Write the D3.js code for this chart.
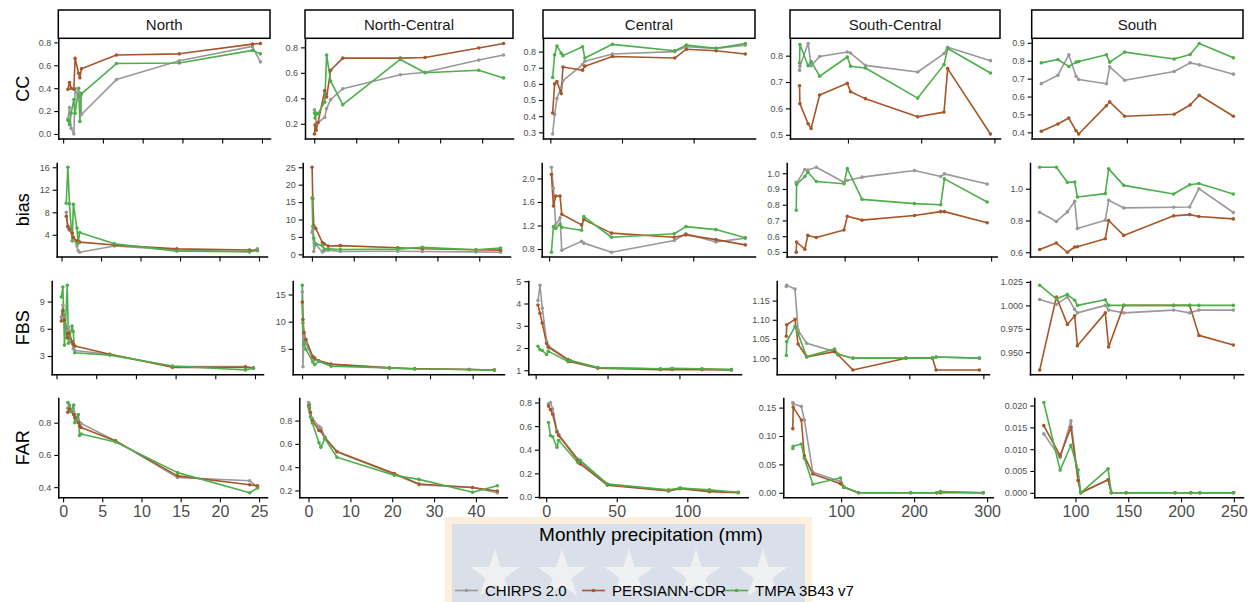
<!DOCTYPE html>
<html>
<head>
<meta charset="utf-8">
<script src="https://cdn.jsdelivr.net/npm/d3@7"></script>
<style>
  body { margin: 0; background: #ffffff; }
  svg { display: block; }
  text { font-family: "Liberation Sans", Arial, Helvetica, sans-serif; }
</style>
</head>
<body>
<svg id="chart" width="1253" height="602"></svg>
<script>
// ---- categories ----
const regions = ["North", "North-Central", "Central", "South-Central", "South"];
const metrics = ["CC", "bias", "FBS", "FAR"];
const products = ["CHIRPS 2.0", "PERSIANN-CDR", "TMPA 3B43 v7"];

// ---- monthly precipitation (mm), one value per month, per region ----
const precipNorth        = [0.6, 0.8, 1.0, 1.35, 1.5, 1.95, 2.1, 2.3, 6.7, 14.6, 23.8, 24.8];
const precipNorthCentral = [0.05, 0.2, 0.45, 0.9, 2.5, 2.95, 3.9, 6.8, 20.5, 26.4, 39.2, 45.1];
const precipCentral      = [1.6, 3.0, 4.6, 7.6, 8.8, 22.5, 24.1, 43.3, 86.8, 94.9, 115.7, 136.1];
const precipSouthCentral = [33.9, 34.4, 45.6, 49.7, 61.3, 99.1, 103.6, 123.8, 195.3, 231.2, 236.2, 294.6];
const precipSouth        = [70.0, 85.5, 95.7, 102.5, 105.0, 130.9, 134.0, 148.0, 194.3, 209.2, 217.8, 249.7];

// ---- scores: rows are CHIRPS 2.0, PERSIANN-CDR, TMPA 3B43 v7 ----
const northCC = [
  [0.13, 0.23, 0.05, 0.00, 0.40, 0.30, 0.36, 0.17, 0.475, 0.64, 0.765, 0.63],
  [0.39, 0.45, 0.40, 0.39, 0.66, 0.53, 0.49, 0.57, 0.69, 0.70, 0.785, 0.79],
  [0.12, 0.08, 0.18, 0.30, 0.18, 0.40, 0.11, 0.35, 0.615, 0.62, 0.73, 0.70]
];
const northBias = [
  [8.0, 5.4, 4.8, 4.3, 3.5, 2.0, 1.2, 0.9, 2.0, 1.3, 1.0, 1.5],
  [7.3, 5.5, 5.0, 4.3, 3.5, 2.9, 2.8, 2.7, 2.2, 1.5, 1.3, 1.2],
  [9.6, 16.0, 9.5, 2.9, 9.4, 5.2, 2.5, 4.4, 2.4, 1.1, 1.0, 1.2]
];
const northFBS = [
  [7.3, 8.6, 7.2, 5.8, 6.2, 4.5, 3.8, 3.6, 3.2, 1.85, 1.85, 1.65],
  [6.85, 8.0, 7.0, 5.0, 5.5, 4.6, 4.3, 4.1, 3.2, 1.75, 1.75, 1.7],
  [9.5, 10.6, 4.2, 10.8, 4.4, 6.3, 5.7, 3.35, 3.1, 1.9, 1.45, 1.65]
];
const northFAR = [
  [0.89, 0.90, 0.88, 0.87, 0.85, 0.82, 0.80, 0.795, 0.687, 0.46, 0.44, 0.40],
  [0.865, 0.885, 0.87, 0.85, 0.83, 0.80, 0.78, 0.77, 0.687, 0.47, 0.415, 0.408],
  [0.925, 0.91, 0.87, 0.91, 0.80, 0.85, 0.72, 0.73, 0.68, 0.49, 0.365, 0.395]
];

const northCentralCC = [
  [0.31, 0.29, 0.20, 0.21, 0.25, 0.32, 0.39, 0.475, 0.585, 0.605, 0.70, 0.74],
  [0.12, 0.19, 0.15, 0.21, 0.46, 0.41, 0.62, 0.715, 0.715, 0.72, 0.795, 0.83],
  [0.285, 0.245, 0.275, 0.28, 0.37, 0.74, 0.535, 0.35, 0.705, 0.60, 0.62, 0.56]
];
const northCentralBias = [
  [6.3, 7.0, 0.8, 2.9, 0.7, 1.0, 1.2, 0.8, 0.9, 0.8, 0.7, 0.6],
  [25.0, 16.0, 8.2, 7.5, 3.4, 3.0, 2.4, 2.5, 1.9, 1.6, 1.3, 1.2],
  [16.2, 8.0, 4.6, 3.0, 2.5, 1.5, 1.6, 1.4, 1.5, 2.0, 1.3, 1.8]
];
const northCentralFBS = [
  [15.5, 1.7, 7.2, 6.0, 3.3, 3.0, 2.8, 2.1, 1.5, 1.35, 1.2, 1.1],
  [13.6, 10.4, 8.0, 6.7, 3.6, 3.3, 2.8, 2.2, 1.5, 1.35, 1.2, 1.1],
  [16.7, 9.8, 5.8, 4.9, 2.6, 2.1, 2.7, 1.8, 1.5, 1.3, 1.2, 1.1]
];
const northCentralFAR = [
  [0.955, 0.94, 0.86, 0.82, 0.75, 0.735, 0.66, 0.53, 0.34, 0.25, 0.225, 0.18],
  [0.93, 0.91, 0.87, 0.80, 0.715, 0.71, 0.65, 0.535, 0.345, 0.255, 0.225, 0.195],
  [0.92, 0.89, 0.83, 0.78, 0.61, 0.57, 0.645, 0.485, 0.33, 0.295, 0.185, 0.24]
];

const centralCC = [
  [0.29, 0.41, 0.51, 0.58, 0.62, 0.72, 0.74, 0.785, 0.80, 0.83, 0.82, 0.84],
  [0.42, 0.60, 0.615, 0.54, 0.705, 0.685, 0.71, 0.77, 0.76, 0.815, 0.805, 0.785],
  [0.64, 0.78, 0.835, 0.79, 0.775, 0.83, 0.76, 0.845, 0.805, 0.84, 0.82, 0.85]
];
const centralBias = [
  [2.19, 1.83, 1.21, 1.33, 0.78, 0.93, 0.90, 0.745, 0.945, 1.06, 0.92, 0.985],
  [2.07, 1.53, 1.70, 1.70, 1.39, 1.21, 1.30, 1.07, 1.00, 1.04, 0.96, 0.87],
  [0.745, 1.18, 1.15, 1.22, 1.17, 1.12, 1.35, 1.00, 1.06, 1.18, 1.13, 0.99]
];
const centralFBS = [
  [4.13, 4.82, 3.79, 2.3, 2.1, 1.49, 1.44, 1.12, 1.06, 1.06, 1.05, 1.03],
  [3.93, 3.56, 3.12, 2.2, 2.04, 1.46, 1.39, 1.09, 1.03, 1.04, 1.03, 1.01],
  [2.08, 1.93, 1.89, 1.71, 1.86, 1.39, 1.44, 1.12, 1.07, 1.09, 1.07, 1.03]
];
const centralFAR = [
  [0.79, 0.80, 0.745, 0.56, 0.53, 0.32, 0.29, 0.11, 0.055, 0.075, 0.05, 0.04],
  [0.77, 0.74, 0.70, 0.55, 0.52, 0.31, 0.28, 0.10, 0.05, 0.07, 0.045, 0.035],
  [0.63, 0.52, 0.51, 0.42, 0.48, 0.29, 0.31, 0.11, 0.06, 0.075, 0.06, 0.04]
];

const southCentralCC = [
  [0.744, 0.76, 0.846, 0.762, 0.797, 0.814, 0.81, 0.763, 0.738, 0.808, 0.832, 0.781],
  [0.686, 0.618, 0.542, 0.524, 0.651, 0.695, 0.663, 0.637, 0.568, 0.586, 0.751, 0.503],
  [0.772, 0.842, 0.762, 0.778, 0.722, 0.795, 0.76, 0.753, 0.639, 0.766, 0.827, 0.734]
];
const southCentralBias = [
  [0.943, 0.937, 1.023, 1.021, 1.038, 0.943, 0.954, 0.975, 1.017, 0.979, 0.996, 0.931],
  [0.498, 0.563, 0.517, 0.605, 0.592, 0.639, 0.727, 0.702, 0.731, 0.756, 0.756, 0.685],
  [0.765, 0.929, 0.979, 1.006, 0.947, 0.933, 1.03, 0.834, 0.807, 0.80, 0.964, 0.817]
];
const southCentralFBS = [
  [1.187, 1.19, 1.18, 1.073, 1.039, 1.017, 1.01, 1.0, 1.0, 1.0, 1.003, 1.0],
  [1.057, 1.087, 1.101, 1.037, 1.003, 1.017, 1.009, 0.969, 1.0, 1.0, 0.969, 0.969],
  [1.007, 1.043, 1.083, 1.064, 1.004, 1.024, 1.01, 1.0, 1.0, 1.0, 1.003, 1.0]
];
const southCentralFAR = [
  [0.159, 0.157, 0.152, 0.128, 0.036, 0.02, 0.01, 0, 0, 0, 0.002, 0],
  [0.113, 0.151, 0.128, 0.065, 0.033, 0.016, 0.01, 0, 0, 0, 0, 0],
  [0.078, 0.082, 0.086, 0.061, 0.015, 0.026, 0.01, 0, 0, 0, 0.002, 0]
];

const southCC = [
  [0.672, 0.719, 0.833, 0.713, 0.695, 0.671, 0.766, 0.691, 0.740, 0.788, 0.777, 0.725],
  [0.406, 0.447, 0.480, 0.409, 0.391, 0.549, 0.570, 0.490, 0.501, 0.553, 0.607, 0.490],
  [0.788, 0.807, 0.768, 0.792, 0.796, 0.833, 0.792, 0.848, 0.810, 0.835, 0.896, 0.816]
];
const southBias = [
  [0.852, 0.794, 0.854, 0.921, 0.750, 0.802, 0.927, 0.879, 0.883, 0.885, 1.000, 0.850],
  [0.617, 0.658, 0.600, 0.633, 0.635, 0.685, 0.800, 0.706, 0.829, 0.837, 0.825, 0.810],
  [1.135, 1.135, 1.040, 1.042, 0.948, 0.969, 1.125, 1.021, 0.967, 1.025, 1.033, 0.967]
];
const southFBS = [
  [1.0063, 1.001, 1.009, 0.9957, 0.992, 1.0, 0.995, 0.992, 0.995, 0.992, 0.995, 0.995],
  [0.931, 1.009, 0.9797, 0.989, 0.957, 0.992, 0.9557, 1.0, 1.0, 1.0, 0.968, 0.9578],
  [1.0215, 1.007, 1.0116, 1.0055, 1.0, 1.006, 1.0, 1.0, 1.0, 1.0, 1.0, 1.0]
];
const southFAR = [
  [0.0135, 0.0081, 0.0165, 0.003, 0, 0.003, 0, 0, 0, 0, 0, 0],
  [0.0154, 0.0085, 0.015, 0.0028, 0, 0.003, 0, 0, 0, 0, 0, 0],
  [0.0207, 0.0052, 0.0109, 0.0052, 0, 0.0055, 0, 0, 0, 0, 0, 0]
];

// ---- tick labels ----
const xTicksNorth        = [0, 5, 10, 15, 20, 25];
const xTicksNorthCentral = [0, 10, 20, 30, 40];
const xTicksCentral      = [0, 50, 100];
const xTicksSouthCentral = [100, 200, 300];
const xTicksSouth        = [100, 150, 200, 250];

const ccTicks   = [[0, 0.2, 0.4, 0.6, 0.8], [0.2, 0.4, 0.6, 0.8], [0.3, 0.4, 0.5, 0.6, 0.7, 0.8], [0.5, 0.6, 0.7, 0.8], [0.4, 0.5, 0.6, 0.7, 0.8, 0.9]];
const biasTicks = [[4, 8, 12, 16], [0, 5, 10, 15, 20, 25], [0.8, 1.2, 1.6, 2.0], [0.5, 0.6, 0.7, 0.8, 0.9, 1.0], [0.6, 0.8, 1.0]];
const fbsTicks  = [[3, 6, 9], [5, 10, 15], [1, 2, 3, 4, 5], [1.00, 1.05, 1.10, 1.15], [0.950, 0.975, 1.000, 1.025]];
const farTicks  = [[0.4, 0.6, 0.8], [0.2, 0.4, 0.6, 0.8], [0, 0.2, 0.4, 0.6, 0.8], [0, 0.05, 0.10, 0.15], [0, 0.005, 0.010, 0.015, 0.020]];

// ---- assembled lookups ----
const regionPrecip = [precipNorth, precipNorthCentral, precipCentral, precipSouthCentral, precipSouth];
const regionScores = [
  [northCC, northBias, northFBS, northFAR],
  [northCentralCC, northCentralBias, northCentralFBS, northCentralFAR],
  [centralCC, centralBias, centralFBS, centralFAR],
  [southCentralCC, southCentralBias, southCentralFBS, southCentralFAR],
  [southCC, southBias, southFBS, southFAR]
];
const regionXTicks = [xTicksNorth, xTicksNorthCentral, xTicksCentral, xTicksSouthCentral, xTicksSouth];
const metricYTicks = [ccTicks, biasTicks, fbsTicks, farTicks];

// ---- layout (pixels) ----
const W = 1253, H = 602;
const rowTop    = [39, 163, 281, 398];
const rowBottom = [138.5, 256.5, 374.3, 497.3];
const panelLeft  = [[58.3, 56.7, 51.7, 58.3], [305, 302.7, 292.7, 299.3], [543, 541.7, 528.3, 539], [790, 786.7, 776.7, 783.3], [1031.7, 1030, 1030, 1034.3]];
const panelRight = [[270, 267, 263, 267], [513, 510, 504, 506.7], [755, 755, 741, 747.7], [1000, 996.7, 989, 992.7], [1243, 1243, 1243, 1243]];

const productColors = ["#999999", "#A65628", "#4DAF4A"];
const tickGrey = "#4d4d4d";

const svg = d3.select("#chart").attr("viewBox", `0 0 ${W} ${H}`);
svg.append("rect").attr("width", W).attr("height", H).attr("fill", "#ffffff");

// backdrop panel behind the axis title and legend
const backdrop = svg.append("g");
backdrop.append("rect").attr("x", 445).attr("y", 517).attr("width", 367).attr("height", 90).attr("fill", "#fcefdc");
backdrop.append("rect").attr("x", 452).attr("y", 524).attr("width", 353).attr("height", 85).attr("fill", "#d9e0ea");
function starPath(cx, cy, R) {
  const pts = d3.range(10).map(k => {
    const a = -Math.PI / 2 + k * Math.PI / 5;
    const r = k % 2 === 0 ? R : R * 0.382;
    return [cx + r * Math.cos(a), cy + r * Math.sin(a)];
  });
  return "M" + pts.map(p => p.join(",")).join("L") + "Z";
}
d3.range(5).forEach(i => {
  backdrop.append("path").attr("d", starPath(495 + i * 67, 575, 26)).attr("fill", "#eef0f2");
});

// number of decimals shared by a set of tick values
function decimalsOf(values) {
  return d3.max(values, v => {
    const s = String(+v.toFixed(6));
    const i = s.indexOf(".");
    return i < 0 ? 0 : s.length - i - 1;
  });
}
function expanded(ext) {
  const pad = (ext[1] - ext[0]) * 0.05;
  return [ext[0] - pad, ext[1] + pad];
}

regions.forEach((region, c) => {
  const xs = regionPrecip[c];
  const xDomain = expanded(d3.extent(xs));

  metrics.forEach((metric, r) => {
    const series = regionScores[c][r];
    const x = d3.scaleLinear().domain(xDomain).range([panelLeft[c][r], panelRight[c][r]]);
    const y = d3.scaleLinear().domain(expanded(d3.extent(series.flat()))).range([rowBottom[r], rowTop[r]]);

    const g = svg.append("g").attr("class", "panel");
    const line = d3.line().x(d => x(d[0])).y(d => y(d[1]));

    series.forEach((vals, p) => {
      g.append("path")
        .datum(xs.map((xv, i) => [xv, vals[i]]))
        .attr("d", line)
        .attr("fill", "none")
        .attr("stroke", productColors[p])
        .attr("stroke-width", 1.6)
        .attr("stroke-linejoin", "round");
    });
    series.forEach((vals, p) => {
      g.selectAll(null)
        .data(xs.map((xv, i) => [xv, vals[i]]))
        .join("circle")
        .attr("cx", d => x(d[0]))
        .attr("cy", d => y(d[1]))
        .attr("r", 1.8)
        .attr("fill", productColors[p]);
    });

    // y axis
    const yt = metricYTicks[r][c];
    const yFmt = d3.format(`.${decimalsOf(yt)}f`);
    const gy = svg.append("g")
      .attr("transform", `translate(${panelLeft[c][r]},0)`)
      .call(d3.axisLeft(y).tickValues(yt).tickFormat(yFmt).tickSizeInner(4).tickSizeOuter(0).tickPadding(3));
    gy.attr("font-size", null).attr("font-family", null);
    gy.select(".domain").attr("stroke", "#000").attr("stroke-width", 1.5).attr("stroke-linecap", "square");
    gy.selectAll(".tick line").attr("stroke", "#000").attr("stroke-width", 1.1);
    gy.selectAll(".tick text").attr("fill", tickGrey).style("font-size", "9px");

    // x axis; tick labels only under the bottom row
    const xt = regionXTicks[c];
    const isBottom = r === metrics.length - 1;
    const gx = svg.append("g")
      .attr("transform", `translate(0,${rowBottom[r]})`)
      .call(d3.axisBottom(x).tickValues(xt).tickFormat(isBottom ? d3.format("d") : () => "")
        .tickSizeInner(5).tickSizeOuter(0).tickPadding(3));
    gx.attr("font-size", null).attr("font-family", null);
    gx.select(".domain").attr("stroke", "#000").attr("stroke-width", 1.5).attr("stroke-linecap", "square");
    gx.selectAll(".tick line").attr("stroke", "#000").attr("stroke-width", 1.1);
    gx.selectAll(".tick text").attr("fill", tickGrey).style("font-size", "16px");
  });

  // facet strip
  const sx0 = panelLeft[c][0], sx1 = panelRight[c][0];
  svg.append("rect")
    .attr("x", sx0).attr("y", 10).attr("width", sx1 - sx0).attr("height", 28.3)
    .attr("fill", "#ffffff").attr("stroke", "#000").attr("stroke-width", 1.5);
  svg.append("text")
    .attr("x", (sx0 + sx1) / 2).attr("y", 29.5)
    .attr("text-anchor", "middle").attr("fill", "#1a1a1a").style("font-size", "15px")
    .text(region);
});

// row titles
metrics.forEach((metric, r) => {
  const cy = (rowTop[r] + rowBottom[r]) / 2;
  svg.append("text")
    .attr("transform", `translate(28.5,${cy}) rotate(-90)`)
    .attr("text-anchor", "middle").attr("fill", "#000").style("font-size", "18px")
    .text(metric);
});

// x axis title
svg.append("text")
  .attr("x", 651).attr("y", 541)
  .attr("text-anchor", "middle").attr("fill", "#000").style("font-size", "19px")
  .text("Monthly precipitation (mm)");

// legend
const legendKeyX = [455, 582, 725];
const legend = svg.append("g");
products.forEach((name, p) => {
  const kx = legendKeyX[p];
  legend.append("line").attr("x1", kx).attr("x2", kx + 23).attr("y1", 590.5).attr("y2", 590.5)
    .attr("stroke", productColors[p]).attr("stroke-width", 1.6);
  legend.append("circle").attr("cx", kx + 11.5).attr("cy", 590.5).attr("r", 1.8).attr("fill", productColors[p]);
  legend.append("text").attr("x", kx + 30).attr("y", 596).attr("fill", "#000").style("font-size", "15px").text(name);
});
</script>
</body>
</html>
